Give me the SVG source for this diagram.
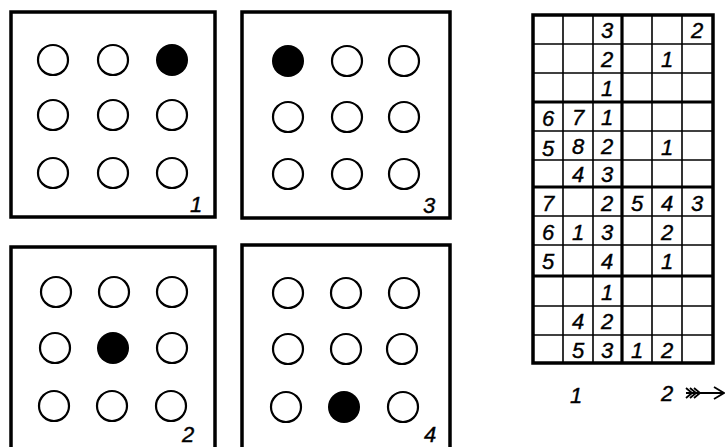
<svg xmlns="http://www.w3.org/2000/svg" width="725" height="447" viewBox="0 0 725 447">
<style>
.box{fill:none;stroke:#000;stroke-width:3.5}
.c{fill:none;stroke:#000;stroke-width:2.2}
.f{fill:#000}
.t{font-family:"Liberation Sans",sans-serif;font-style:italic;font-size:22px;fill:#000;stroke:#000;stroke-width:0.4;text-anchor:middle}
.thin{stroke:#000;stroke-width:1.6}
.thick{stroke:#000;stroke-width:3.2}
</style>
<rect width="725" height="447" fill="#fff"/>
<g id="panel1">
<rect class="box" x="11" y="12" width="204" height="205"/>
<circle class="c" cx="53" cy="60" r="15"/><circle class="c" cx="113" cy="60" r="15"/><circle class="f" cx="172" cy="60" r="16"/>
<circle class="c" cx="53" cy="115" r="15"/><circle class="c" cx="113" cy="115" r="15"/><circle class="c" cx="172" cy="115" r="15"/>
<circle class="c" cx="53" cy="173" r="15"/><circle class="c" cx="113" cy="173" r="15"/><circle class="c" cx="172" cy="173" r="15"/>
<text class="t" x="196" y="212">1</text>
</g>
<g id="panel3">
<rect class="box" x="242" y="12" width="208" height="206"/>
<circle class="f" cx="288" cy="61" r="16"/><circle class="c" cx="347" cy="61" r="15"/><circle class="c" cx="404" cy="61" r="15"/>
<circle class="c" cx="288" cy="117" r="15"/><circle class="c" cx="347" cy="117" r="15"/><circle class="c" cx="404" cy="117" r="15"/>
<circle class="c" cx="288" cy="174" r="15"/><circle class="c" cx="347" cy="174" r="15"/><circle class="c" cx="404" cy="174" r="15"/>
<text class="t" x="429" y="213">3</text>
</g>
<g id="panel2">
<rect class="box" x="11" y="247" width="204" height="204"/>
<circle class="c" cx="56" cy="292" r="15"/><circle class="c" cx="114" cy="292" r="15"/><circle class="c" cx="172" cy="292" r="15"/>
<circle class="c" cx="55" cy="348" r="15"/><circle class="f" cx="113" cy="348" r="16"/><circle class="c" cx="172" cy="348" r="15"/>
<circle class="c" cx="54" cy="406" r="15"/><circle class="c" cx="112" cy="406" r="15"/><circle class="c" cx="171" cy="406" r="15"/>
<text class="t" x="188" y="442">2</text>
</g>
<g id="panel4">
<rect class="box" x="242" y="245" width="208" height="206"/>
<circle class="c" cx="288" cy="293" r="15"/><circle class="c" cx="346" cy="293" r="15"/><circle class="c" cx="404" cy="293" r="15"/>
<circle class="c" cx="288" cy="349" r="15"/><circle class="c" cx="346" cy="349" r="15"/><circle class="c" cx="402" cy="349" r="15"/>
<circle class="c" cx="286" cy="407" r="15"/><circle class="f" cx="344" cy="407" r="16"/><circle class="c" cx="403" cy="407" r="15"/>
<text class="t" x="430" y="442">4</text>
</g>
<g id="grid">
<g class="thin">
<line x1="563" y1="15" x2="563" y2="363"/><line x1="593" y1="15" x2="593" y2="363"/>
<line x1="652" y1="15" x2="652" y2="363"/><line x1="682" y1="15" x2="682" y2="363"/>
<line x1="533" y1="44" x2="713" y2="44"/><line x1="533" y1="73" x2="713" y2="73"/>
<line x1="533" y1="131" x2="713" y2="131"/><line x1="533" y1="160" x2="713" y2="160"/>
<line x1="533" y1="216" x2="713" y2="216"/><line x1="533" y1="245" x2="713" y2="245"/>
<line x1="533" y1="306" x2="713" y2="306"/><line x1="533" y1="335" x2="713" y2="335"/>
</g>
<g class="thick">
<line x1="622" y1="15" x2="622" y2="363"/>
<line x1="533" y1="102" x2="713" y2="102"/><line x1="533" y1="187" x2="713" y2="187"/><line x1="533" y1="276" x2="713" y2="276"/>
</g>
<rect x="533" y="15" width="180" height="348" fill="none" stroke="#000" stroke-width="3.5"/>
<g class="t">
<text x="607" y="38">3</text><text x="697" y="38">2</text>
<text x="607" y="67">2</text><text x="667" y="67">1</text>
<text x="607" y="96">1</text>
<text x="548" y="126">6</text><text x="578" y="125">7</text><text x="607" y="125">1</text>
<text x="548" y="156">5</text><text x="578" y="154">8</text><text x="607" y="154">2</text><text x="667" y="155">1</text>
<text x="578" y="182">4</text><text x="607" y="182">3</text>
<text x="548" y="211">7</text><text x="607" y="211">2</text><text x="637" y="211">5</text><text x="667" y="211">4</text><text x="697" y="211">3</text>
<text x="548" y="240">6</text><text x="578" y="240">1</text><text x="607" y="240">3</text><text x="667" y="240">2</text>
<text x="548" y="269">5</text><text x="607" y="269">4</text><text x="667" y="269">1</text>
<text x="607" y="300">1</text>
<text x="578" y="329">4</text><text x="607" y="329">2</text>
<text x="578" y="358">5</text><text x="607" y="358">3</text><text x="637" y="358">1</text><text x="667" y="358">2</text>
</g>
</g>
<g id="labels">
<text class="t" x="576" y="403">1</text>
<text class="t" x="667" y="401">2</text>
</g>
<g id="connectors" fill="none" stroke="#000" stroke-width="1.8">
<path d="M686 393 H724"/>
<path d="M714 387 L724 393 L714 399"/>
<path d="M686 388 L692 393 L686 398 M690 388 L696 393 L690 398 M694 388 L700 393 L694 398"/>
</g>
</svg>
